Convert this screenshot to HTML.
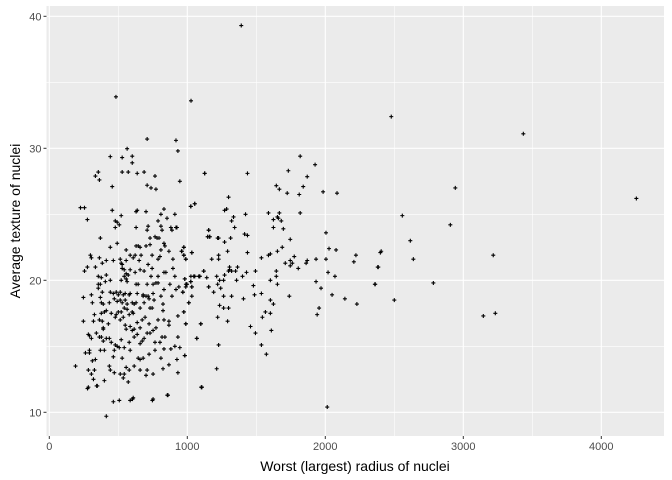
<!DOCTYPE html>
<html><head><meta charset="utf-8">
<style>
html,body{margin:0;padding:0;background:#fff;}
svg{display:block;font-family:"Liberation Sans",Arial,sans-serif;}
</style></head>
<body>
<svg id="chart" width="672" height="480" viewBox="0 0 672 480">
  <rect x="46.5" y="6" width="617.5" height="430" fill="#EBEBEB"/>
  <g id="grid"></g>
  <g id="points"></g>
  <g id="axes"></g>
  <text x="355" y="471" font-size="14" text-anchor="middle" fill="#000">Worst (largest) radius of nuclei</text>
  <text x="0" y="0" font-size="14" text-anchor="middle" fill="#000" transform="translate(20,221) rotate(-90)">Average texture of nuclei</text>
</svg>
<script>
const xTicks = [0, 1000, 2000, 3000, 4000];
const yTicks = [10, 20, 30, 40];
const worstRadius = [
1126,1436,1818,1926,1732,1869,1645,1667,1840,1724,1811,1984,2085,1299,1025,1054,1270,1285,1422,1588,1667,1818,1335,1321,1624,1653,1681,1660,1343,1624,1696,1155,1148,1162,1220,1227,1314,1270,1415,1436,1746,2005,
975,958,975,989,1033,1177,1227,1227,1292,1436,1537,1588,1602,1653,1688,1775,1710,1746,1761,1746,1804,1861,1869,1933,2005,2027,2078,2207,2222,2380,2020,2070,
982,1047,1083,1090,1119,1141,1306,1306,1350,1364,1299,1321,1270,1263,1234,1213,1400,1429,1357,1494,1645,1645,1602,1653,1479,997,989,1033,1025,968,1033,1155,1191,1220,1242,1263,1321,1407,1487,1537,1602,1624,1739,1933,1969,2049,2142,2229,2359,
1011,975,989,1098,1234,1263,1299,1220,1292,1566,1602,1544,1955,1941,1458,1494,1609,1069,1227,1537,1573,982,1213,1105,
564,442,528,601,601,932,918,709,355,334,363,528,572,637,687,766,946,1126,456,709,737,773,226,255,456,629,637,701,831,809,910,1026,1054,
276,478,492,507,521,478,629,709,716,788,853,809,817,881,889,918,925,1155,1148,1163,730,766,781,795,370,492,442,629,644,658,701,730,831,838,809,557,975,961,1033,
298,305,363,413,464,514,521,528,528,543,557,586,608,622,665,745,788,802,867,896,990,975,
255,276,334,384,413,355,377,557,543,572,586,658,687,716,745,622,651,737,788,831,845,896,910,982,1026,1054,1090,1119,
355,370,406,442,521,557,564,629,644,709,752,773,788,831,874,918,939,968,990,997,1026,1033,1155,
355,384,442,464,485,500,514,536,550,579,586,637,680,680,701,716,752,809,889,
247,305,370,377,312,391,435,471,492,514,528,550,564,601,615,629,687,723,759,824,1011,
377,399,413,449,485,500,521,543,564,579,601,608,658,730,745,824,932,975,
247,320,327,363,384,391,391,428,478,514,536,550,557,586,601,615,637,658,673,694,723,752,773,788,831,867,867,990,1098,
283,291,305,341,363,377,391,413,435,449,478,492,507,543,521,579,615,637,658,673,687,709,730,766,802,817,838,932,1069,
262,291,291,370,399,471,464,528,586,644,658,680,723,766,809,831,881,910,946,982,925,
190,312,334,283,305,327,435,442,471,514,543,557,579,615,658,709,701,752,824,867,932,
320,399,536,572,283,348,1105,860,608,752,
2478,3435,2942,4254,2558,2906,2616,2399,2405,2638,3217,2384,2362,2783,2500,3145,3232,
277,343,464,507,586,603,747,855,1101,2014,413,483,1027,1391
];
const texture = [
28.1,28.1,29.4,28.76,28.3,27.85,27.17,26.9,27.1,26.6,26.5,26.7,26.6,26.3,25.6,25.8,25.3,25.4,25.0,25.1,25.1,25.1,24.8,24.5,24.6,24.8,24.5,24.7,24.0,24.0,23.9,23.8,23.3,23.3,23.2,23.2,23.2,22.9,23.5,23.4,23.1,23.6,
22.5,22.2,21.9,21.6,22.1,21.6,21.9,21.6,22.2,22.1,21.7,21.9,22.0,22.2,22.5,21.8,21.3,21.5,21.3,21.1,20.9,21.3,21.5,21.6,21.6,22.4,22.3,21.4,21.9,21.0,20.6,20.3,
20.1,20.3,20.3,20.3,20.7,20.2,21.0,20.8,20.7,21.0,20.7,20.7,20.4,20.0,20.0,20.3,20.3,20.6,20.0,20.7,20.7,20.3,20.0,19.7,19.6,19.7,19.5,19.5,19.9,19.1,18.8,19.5,19.1,19.7,19.4,18.8,18.8,18.6,18.9,19.0,18.5,18.2,18.8,19.9,19.4,18.9,18.6,18.2,19.7,
18.3,17.6,16.7,16.7,18.1,17.9,17.9,17.2,16.9,17.6,17.5,17.2,17.9,17.4,16.5,16.0,16.2,15.6,15.1,15.1,14.4,14.3,13.3,11.9,
29.97,29.37,29.3,29.4,28.9,29.8,30.6,30.7,28.2,27.9,27.6,28.2,28.2,28.1,28.2,27.9,27.5,28.1,27.1,27.2,27.0,26.9,25.5,25.5,25.3,25.2,25.3,25.2,25.4,25.0,25.0,25.6,25.8,
24.6,24.5,24.4,24.2,24.9,24.0,24.0,23.8,24.1,24.5,24.7,24.1,23.8,24.0,23.8,24.0,24.0,23.8,23.3,23.3,23.2,23.3,23.2,23.2,23.2,22.8,22.5,22.6,22.6,22.5,22.6,22.7,22.8,22.6,22.3,22.3,22.5,22.2,22.1,
21.9,21.7,21.7,21.5,21.5,21.6,21.3,21.2,20.9,20.8,21.5,21.9,21.7,21.9,21.9,21.9,21.6,21.8,22.2,21.6,21.6,21.9,
20.7,21.0,21.0,21.3,20.4,20.3,20.2,20.5,20.3,20.4,20.8,20.8,20.7,21.2,20.9,20.6,21.5,20.3,20.3,20.6,20.6,20.9,20.3,20.1,20.3,20.3,20.3,20.7,
19.7,19.7,19.9,20.0,20.0,20.1,19.9,19.7,19.7,19.7,19.7,19.8,19.8,19.3,19.7,19.3,19.5,19.1,19.7,19.7,19.9,19.5,19.5,
19.4,19.1,19.1,19.0,19.1,18.9,19.1,18.9,19.0,18.9,19.0,19.0,18.9,18.8,18.8,18.8,19.0,18.8,18.8,
18.7,18.9,18.7,18.3,18.3,18.2,18.3,18.6,18.4,18.5,18.3,18.5,18.2,18.3,18.2,18.3,18.3,18.6,18.5,18.2,18.3,
17.5,17.6,17.7,17.5,17.4,17.6,17.6,17.9,17.8,17.4,17.6,17.5,17.9,17.9,17.9,17.7,17.3,17.6,
16.9,16.9,17.4,17.0,16.9,16.4,16.3,16.7,17.2,17.0,17.2,16.6,16.3,16.5,16.2,16.3,16.8,16.4,17.0,17.2,16.7,16.2,16.4,17.0,17.0,16.6,16.9,16.7,16.7,
15.9,15.8,15.6,16.0,15.7,15.7,15.4,15.6,15.6,15.3,15.1,15.0,14.9,14.9,15.5,15.3,15.7,15.9,15.2,15.4,15.6,16.0,16.0,15.3,15.3,15.7,15.7,15.7,15.6,
14.5,14.7,14.5,14.7,14.7,14.7,14.2,14.1,14.7,14.1,14.0,14.1,14.4,14.7,14.1,14.8,14.8,15.0,14.9,14.3,14.0,
13.5,13.9,14.0,13.2,12.9,13.2,13.5,13.2,13.0,12.9,12.9,13.4,13.2,13.5,13.2,13.2,12.8,12.9,13.3,13.6,13.0,
12.5,12.4,12.6,12.3,11.9,12.0,11.9,11.3,11.1,11.0,
32.4,31.1,27.0,26.2,24.9,24.2,23.0,22.1,22.2,21.6,21.9,21.0,19.7,19.8,18.5,17.3,17.5,
11.8,12.0,10.8,10.9,10.9,11.0,10.9,11.3,11.9,10.4,9.7,33.9,33.6,39.3
];

const NS = 'http://www.w3.org/2000/svg';
const L = 46.5, R = 664, T = 6, B = 436;
function xScale(v){ return 49.3 + v * 0.138; }
function yScale(v){ return 280.3 - (v - 20) * 13.2; }

const grid = document.getElementById('grid');
const axes = document.getElementById('axes');
function line(parent, x1, y1, x2, y2, stroke, w){
  const l = document.createElementNS(NS, 'line');
  l.setAttribute('x1', x1); l.setAttribute('y1', y1);
  l.setAttribute('x2', x2); l.setAttribute('y2', y2);
  l.setAttribute('stroke', stroke); l.setAttribute('stroke-width', w);
  parent.appendChild(l);
  return l;
}
// minor grid
for (let i = 0; i < xTicks.length; i++) {
  const m = xTicks[i] + 500;
  const g = line(grid, xScale(m), T, xScale(m), B, '#fff', 0.55);
  
  
}
for (let i = 0; i < yTicks.length; i++) {
  const m = yTicks[i] - 5;
  if (yScale(m) < B) {
    const g = line(grid, L, yScale(m), R, yScale(m), '#fff', 0.55);
    
    
  }
}
// major grid + ticks
xTicks.forEach(t => {
  const x = xScale(t);
  const g = line(grid, x, T, x, B, '#fff', 1.1);
  
  
  const tk = line(axes, x, B, x, B + 3, '#333', 1);
  
  
  const tx = document.createElementNS(NS, 'text');
  tx.setAttribute('x', x); tx.setAttribute('y', B + 14);
  tx.setAttribute('font-size', '11'); tx.setAttribute('fill', '#4D4D4D');
  tx.setAttribute('text-anchor', 'middle');
  tx.textContent = t;
  
  
  axes.appendChild(tx);
});
yTicks.forEach(t => {
  const y = yScale(t);
  const g = line(grid, L, y, R, y, '#fff', 1.1);
  
  
  const tk = line(axes, L - 3, y, L, y, '#333', 1);
  
  
  const tx = document.createElementNS(NS, 'text');
  tx.setAttribute('x', L - 5); tx.setAttribute('y', y + 4);
  tx.setAttribute('font-size', '11'); tx.setAttribute('fill', '#4D4D4D');
  tx.setAttribute('text-anchor', 'end');
  tx.textContent = t;
  
  
  axes.appendChild(tx);
});
// points
const pts = document.getElementById('points');
const n = Math.min(worstRadius.length, texture.length);
for (let i = 0; i < n; i++) {
  const x = xScale(worstRadius[i]), y = yScale(texture[i]);
  const p = document.createElementNS(NS, 'path');
  p.setAttribute('d', `M${x-2},${y}H${x+2}M${x},${y-2}V${y+2}`);
  p.setAttribute('stroke', '#000');
  p.setAttribute('stroke-width', '1.1');
  p.setAttribute('fill', 'none');
  
  
  pts.appendChild(p);
}
</script>
</body></html>
